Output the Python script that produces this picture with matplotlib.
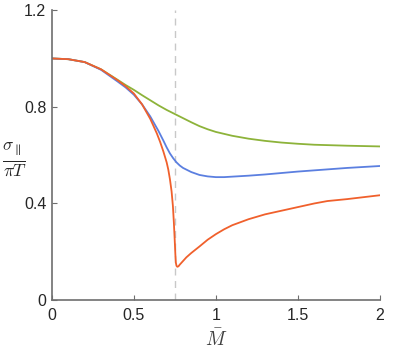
import matplotlib
matplotlib.use('Agg')
import matplotlib.pyplot as plt

plt.rcParams['font.family'] = ['Liberation Sans', 'DejaVu Sans']
plt.rcParams['mathtext.fontset'] = 'cm'

# values
red_x = [0, 0.1, 0.2, 0.3, 0.4, 0.45, 0.5, 0.55, 0.6, 0.62, 0.64, 0.66, 0.68, 0.7,
         0.71, 0.72, 0.73, 0.738, 0.744, 0.749, 0.753, 0.756, 0.76, 0.765, 0.772,
         0.78, 0.8, 0.82, 0.85, 0.9, 0.95, 1.0, 1.05, 1.1, 1.2, 1.3, 1.4, 1.5,
         1.6, 1.68, 1.8, 1.9, 2.0]
red_y = [1.0, 0.997, 0.985, 0.955, 0.91, 0.885, 0.855, 0.81, 0.75, 0.72, 0.69,
         0.655, 0.615, 0.57, 0.54, 0.50, 0.45, 0.39, 0.32, 0.25, 0.19, 0.155,
         0.142, 0.138, 0.14, 0.147, 0.162, 0.177, 0.195, 0.222, 0.25, 0.273,
         0.293, 0.31, 0.335, 0.355, 0.37, 0.385, 0.40, 0.41, 0.418, 0.426, 0.434]

blue_x = [0, 0.1, 0.2, 0.3, 0.4, 0.45, 0.5, 0.55, 0.6, 0.65, 0.68, 0.7, 0.72, 0.74,
          0.76, 0.78, 0.8, 0.85, 0.9, 0.95, 1.0, 1.05, 1.1, 1.2, 1.3, 1.4, 1.5,
          1.6, 1.7, 1.8, 1.9, 2.0]
blue_y = [1.0, 0.997, 0.985, 0.953, 0.905, 0.88, 0.85, 0.81, 0.76, 0.70, 0.66,
          0.632, 0.607, 0.587, 0.57, 0.557, 0.547, 0.53, 0.518, 0.512, 0.509,
          0.509, 0.511, 0.515, 0.52, 0.526, 0.532, 0.537, 0.542, 0.547, 0.551,
          0.555]

green_x = [0, 0.1, 0.2, 0.3, 0.4, 0.45, 0.5, 0.55, 0.6, 0.65, 0.7, 0.75, 0.8, 0.85,
           0.9, 0.95, 1.0, 1.1, 1.2, 1.3, 1.4, 1.5, 1.6, 1.8, 2.0]
green_y = [1.0, 0.997, 0.985, 0.955, 0.912, 0.89, 0.87, 0.848, 0.827, 0.806, 0.787,
           0.77, 0.753, 0.736, 0.72, 0.707, 0.696, 0.68, 0.668, 0.659, 0.652,
           0.647, 0.643, 0.639, 0.636]

m_crit = 0.75
x_ticks = [0, 0.5, 1, 1.5, 2]
x_tick_labels = ['0', '0.5', '1', '1.5', '2']
y_ticks = [0, 0.4, 0.8, 1.2]
y_tick_labels = ['0', '0.4', '0.8', '1.2']

fig = plt.figure(figsize=(3.99, 3.49), dpi=100)
ax = fig.add_axes([0.130, 0.140, 0.822, 0.831])

ax.axvline(m_crit, color='#c8c8c8', lw=1.0, ls=(0, (5, 4)), zorder=1)
ax.plot(green_x, green_y, color='#8db33a', lw=1.3)
ax.plot(blue_x, blue_y, color='#5b7fe0', lw=1.3)
ax.plot(red_x, red_y, color='#f0602c', lw=1.3)

ax.set_xlim(0, 2)
ax.set_ylim(0, 1.2)
ax.set_xticks(x_ticks)
ax.set_xticklabels(x_tick_labels)
ax.set_yticks(y_ticks)
ax.set_yticklabels(y_tick_labels)

for s in ['top', 'right']:
    ax.spines[s].set_visible(False)
for s in ['left', 'bottom']:
    ax.spines[s].set_color('#6e6e6e')
    ax.spines[s].set_linewidth(1.2)
ax.tick_params(direction='in', length=3.5, width=0.8, color='#6e6e6e',
               labelsize=11.5, labelcolor='#262626')
ax.tick_params(axis='x', pad=6)
ax.tick_params(axis='y', pad=4)

ax.set_xlabel(r'$\bar{M}$', fontsize=14, color='#404040', labelpad=4)
ax.set_ylabel(r'$\frac{\sigma_{\parallel}}{\pi T}$', fontsize=18, rotation=0,
              color='#262626', va='center', ha='center')
ax.yaxis.set_label_coords(-0.115, 0.485)

fig.savefig('out.png', dpi=100)
